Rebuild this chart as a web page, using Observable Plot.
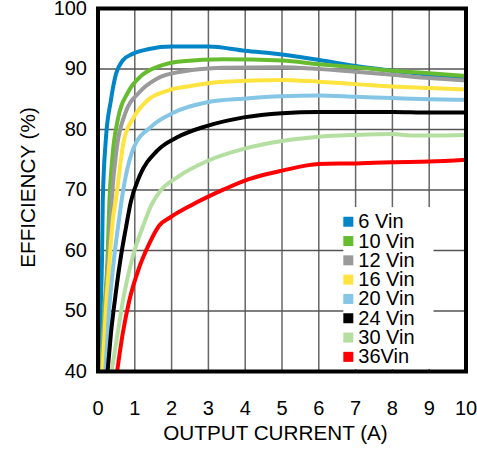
<!DOCTYPE html>
<html><head><meta charset="utf-8">
<script src="https://cdn.jsdelivr.net/npm/d3@7"></script>
<script src="https://cdn.jsdelivr.net/npm/@observablehq/plot@0.6"></script>
<style>body{margin:0;background:#fff} svg{display:block}</style>
</head><body><div id="chart"></div>
<script>
const seriesNames = ["6 Vin","10 Vin","12 Vin","16 Vin","20 Vin","24 Vin","30 Vin","36Vin"];
const seriesColors = ["#0085c6","#66bb2e","#9a9a9a","#ffe33e","#85c5e5","#000000","#b4dfa0","#ff0000"];

const current6  = [0.03,0.07,0.11,0.13,0.21,0.35,0.49,0.67,0.94,1.39,2.0,3.0,4.0,5.0,6.0,7.0,8.0,9.0,10];
const eff6      = [40,50,58.9,68.2,78.1,84.8,89.2,91.4,92.5,93.3,93.7,93.7,93.0,92.4,91.5,90.5,89.7,89.05,88.5];
const current10 = [0.08,0.17,0.26,0.31,0.39,0.55,0.82,1.18,1.63,2.3,3.4,5.0,6.0,7.0,8.0,9.0,10];
const eff10     = [40,50,58.9,68.2,75.4,82.0,86.2,88.9,90.4,91.3,91.6,91.4,90.8,90.3,89.7,89.3,88.85];
const current12 = [0.10,0.19,0.29,0.37,0.5,0.73,1.13,1.6,2.3,3.4,5.0,6.0,7.0,8.0,9.0,10];
const eff12     = [40,50,58.9,68.2,76.5,82.5,86.2,88.4,89.6,90.2,90.3,90.0,89.55,89.05,88.5,88.1];
const current16 = [0.12,0.21,0.32,0.41,0.48,0.70,0.97,1.34,1.88,2.51,3.42,5.0,6.0,7.0,8.0,9.0,10];
const eff16     = [40,50,58.9,65.5,68.2,78.1,82.0,84.8,86.4,87.2,87.9,88.2,87.9,87.5,87.1,86.85,86.6];
const current20 = [0.2,0.3,0.44,0.58,0.64,0.97,1.43,2.06,2.97,3.96,5.0,6.0,7.0,8.0,9.0,10];
const eff20     = [40,50,58.9,65.5,68.2,77.0,80.4,82.8,84.5,85.1,85.5,85.6,85.4,85.2,85.0,84.9];
const current24 = [0.26,0.35,0.48,0.62,0.76,0.89,1.13,1.61,2.15,2.97,3.96,5.0,6.0,7.0,8.0,9.0,10];
const eff24     = [40,46.2,52.8,58.9,63.8,68.0,72.3,76.5,78.7,80.6,82.0,82.7,82.9,82.9,82.9,82.8,82.8];
const current30 = [0.37,0.53,0.71,0.94,1.21,1.45,1.70,2.15,2.97,3.96,5.0,6.0,7.0,8.0,8.5,9.0,10];
const eff30     = [40,46.2,52.8,58.9,63.8,67.5,69.9,72.1,74.8,76.8,78.1,78.8,79.1,79.25,79.0,79.0,79.1];
const current36 = [0.52,0.67,0.85,1.12,1.39,1.66,1.97,2.51,3.42,4.1,5.0,6.0,7.0,8.0,9.0,10];
const eff36     = [40,46.2,51.7,57.2,61.1,64.1,65.5,67.4,70.1,71.8,73.2,74.3,74.4,74.6,74.7,75.0];

const xTicks = [0,1,2,3,4,5,6,7,8,9,10];
const yTicks = [40,50,60,70,80,90,100];
const xLabel = "OUTPUT CURRENT (A)";
const yLabel = "EFFICIENCY (%)";

const currents = [current6,current10,current12,current16,current20,current24,current30,current36];
const effs = [eff6,eff10,eff12,eff16,eff20,eff24,eff30,eff36];
const data = seriesNames.flatMap((name,i) => currents[i].map((x,j) => ({series:name, current:x, eff:effs[i][j]})));

const FONT = "'Liberation Sans', Arial, sans-serif";
const plot = Plot.plot({
  width: 477, height: 459,
  marginLeft: 97.5, marginRight: 11.5, marginTop: 8, marginBottom: 88,
  style: {fontFamily: FONT, fontSize: "20px", color: "#000", background: "#fff", overflow: "visible"},
  x: {domain: [0, 10]},
  y: {domain: [40, 100]},
  color: {domain: seriesNames, range: seriesColors},
  marks: [
    Plot.gridX(xTicks.slice(1, -1), {stroke: "#666", strokeOpacity: 1, strokeWidth: 1.5}),
    Plot.gridY(yTicks.slice(1, -1), {stroke: "#555", strokeOpacity: 1, strokeWidth: 1.5}),
    Plot.line(data, {x: "current", y: "eff", z: "series", stroke: "series", strokeWidth: 4, curve: "monotone-x", clip: true}),
    Plot.frame({stroke: "#000", strokeWidth: 4}),
    Plot.axisX(xTicks, {tickSize: 0, tickPadding: 29, label: null, fontSize: 20}),
    Plot.axisY(yTicks, {tickSize: 0, tickPadding: 11, label: null, fontSize: 20})
  ]
});
document.getElementById("chart").appendChild(plot);

const sx = plot.scale("x"), sy = plot.scale("y");
const svg = d3.select(plot);
// legend
const frameNode = plot.querySelector('[aria-label="frame"]');
const lg = d3.create("svg:g").attr("font-family", FONT).attr("font-size", 20).attr("fill", "#000").attr("text-anchor", "start");
const boxL = sx.apply(6.68), boxR = sx.apply(9.13), boxT = sy.apply(67.1), boxB = sy.apply(40) - 2;
lg.append("rect").attr("x", boxL).attr("y", boxT).attr("width", boxR - boxL).attr("height", boxB - boxT).attr("fill", "#fff");
const row0 = boxT + 14.7, rowStep = 19.3;
seriesNames.forEach((name, i) => {
  const cy = row0 + i * rowStep;
  lg.append("rect").attr("x", boxL).attr("y", cy - 5).attr("width", 10).attr("height", 10).attr("fill", seriesColors[i]);
  lg.append("text").attr("x", boxL + 15).attr("y", cy + 6.5).attr("text-anchor", "start").text(name);
});
plot.insertBefore(lg.node(), frameNode);

// axis labels
svg.append("text").attr("font-family", FONT).attr("font-size", 20.7).attr("text-anchor", "middle")
  .attr("x", 275.5).attr("y", 440).text(xLabel);
svg.append("text").attr("font-family", FONT).attr("font-size", 20.7).attr("text-anchor", "middle")
  .attr("transform", `translate(35,${(sy.apply(40) + sy.apply(100)) / 2 - 2}) rotate(-90)`).text(yLabel);
</script>
</body></html>
